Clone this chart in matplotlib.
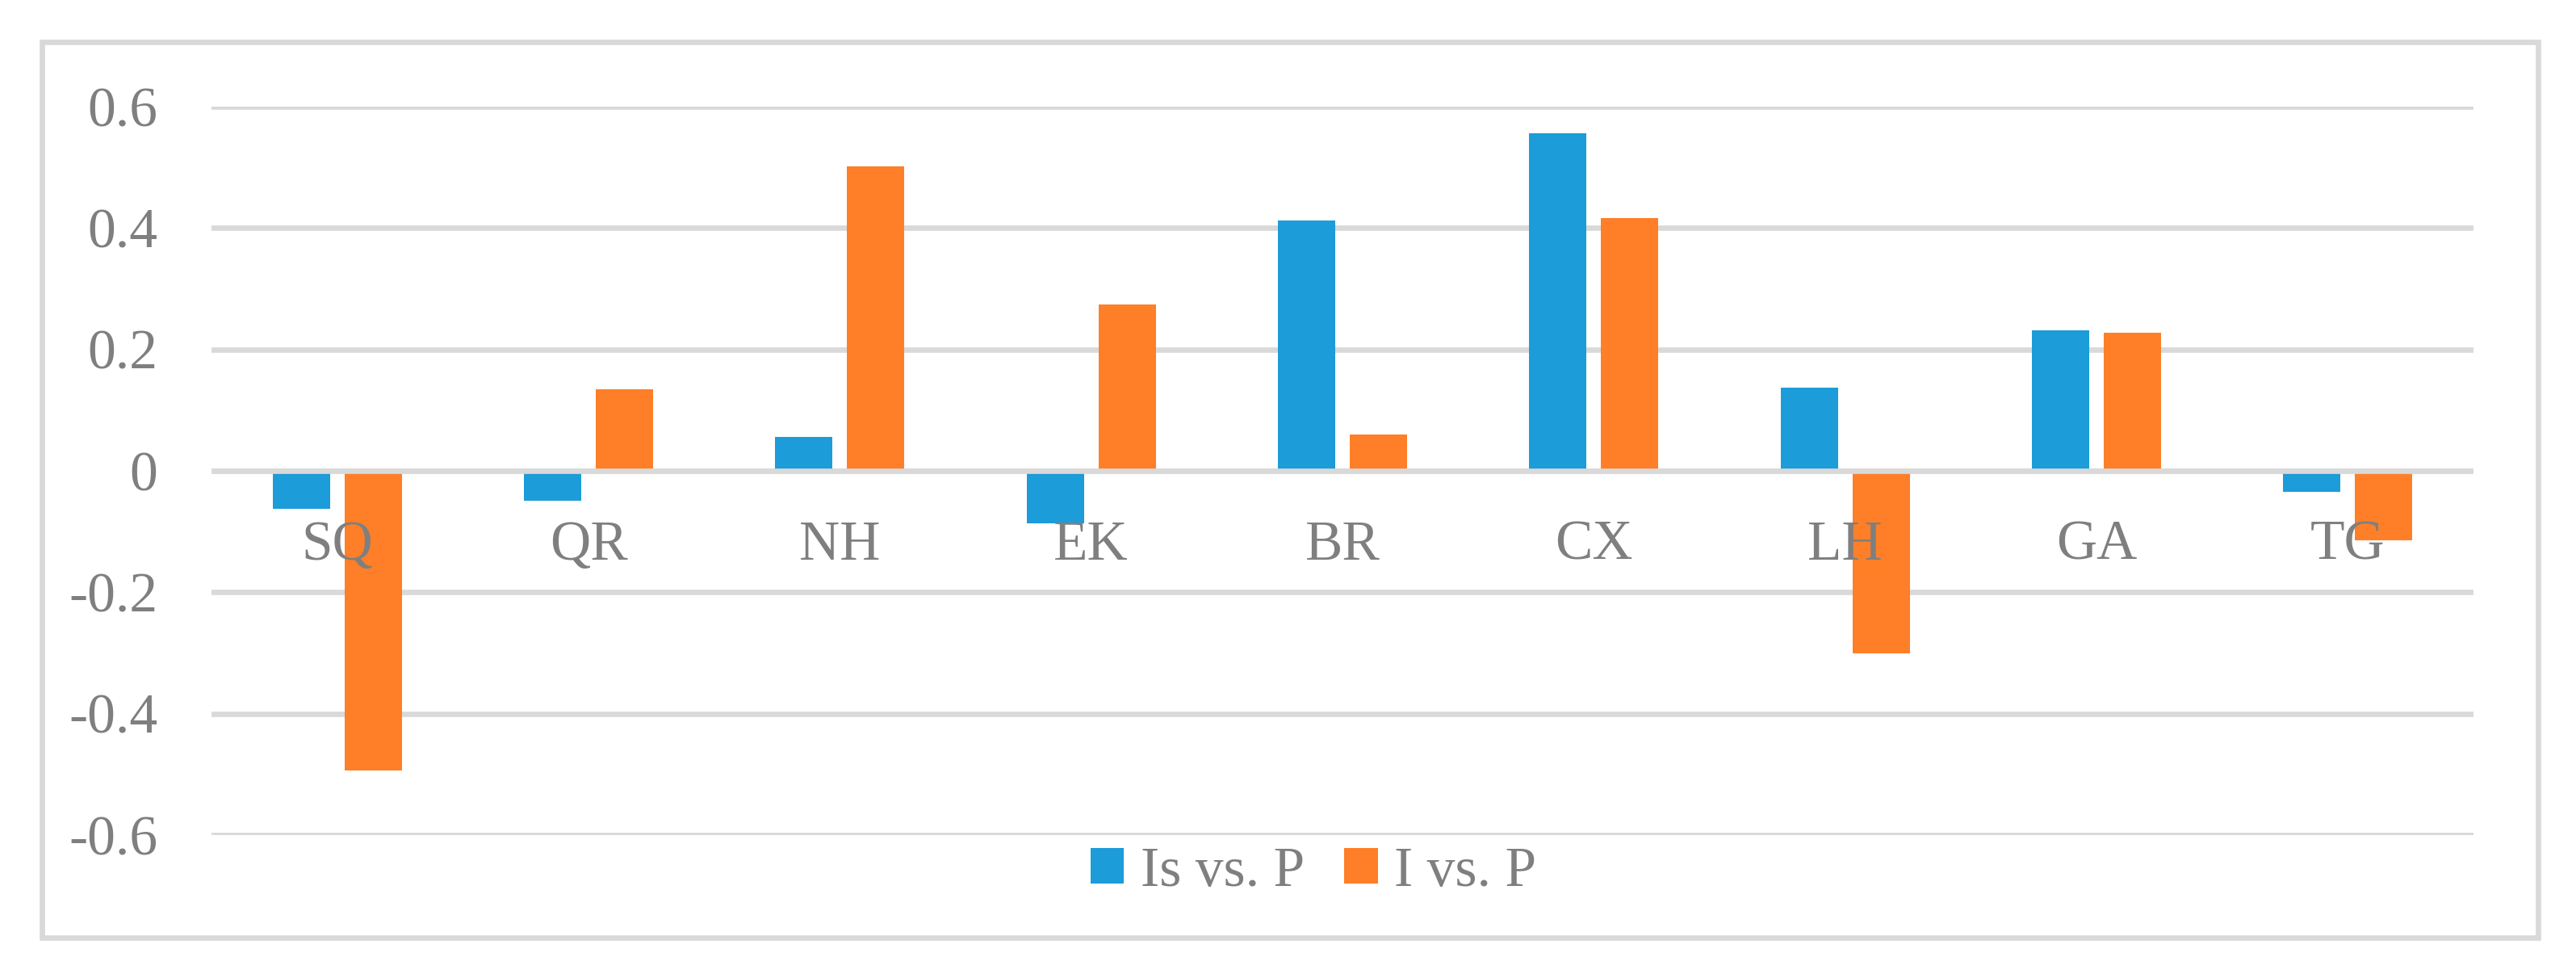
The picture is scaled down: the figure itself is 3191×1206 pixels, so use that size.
"""
Correlation bars per category (Is vs. P and I vs. P), Excel-style layout.
Saves out.png
"""
import matplotlib
matplotlib.use('Agg')
import matplotlib.pyplot as plt
from matplotlib.patches import Rectangle
import numpy as np

categories = ['SQ', 'QR', 'NH', 'EK', 'BR', 'CX', 'LH', 'GA', 'TG']
is_vs_p = [-0.062, -0.049, 0.056, -0.087, 0.412, 0.556, 0.137, 0.231, -0.035]
i_vs_p = [-0.493, 0.134, 0.501, 0.274, 0.060, 0.417, -0.300, 0.228, -0.114]
series_names = ['Is vs. P', 'I vs. P']
y_ticks = [-0.6, -0.4, -0.2, 0, 0.2, 0.4, 0.6]
y_ticklabels = ['-0.6', '-0.4', '-0.2', '0', '0.2', '0.4', '0.6']

BLUE = '#1c9cd8'
ORANGE = '#fe7f27'
GREY_TXT = '#7f7f7f'
GRID = '#d9d9d9'
W, H, DPI = 3191, 1206, 200
FS = 25

plt.rcParams.update({'font.family': ['Liberation Serif', 'DejaVu Serif'],
                     'font.size': FS})

fig = plt.figure(figsize=(W / DPI, H / DPI), dpi=DPI)
fig.patch.set_facecolor('white')

# outer chart frame
fig.add_artist(Rectangle((52 / W, 1 - 1161 / H), (3144 - 52) / W, (1161 - 52) / H,
                         transform=fig.transFigure, fill=False,
                         edgecolor=GRID, lw=2.4))

ax = fig.add_axes([262 / W, 1 - 1034 / H, (3064 - 262) / W, (1034 - 132) / H])
x = np.arange(len(categories))
bw, off = 0.228, 0.143
ax.bar(x - off, is_vs_p, bw, color=BLUE, label=series_names[0], zorder=2)
ax.bar(x + off, i_vs_p, bw, color=ORANGE, label=series_names[1], zorder=2)

ax.set_xlim(-0.5, len(categories) - 0.5)
ax.set_ylim(-0.6, 0.6)
ax.set_yticks(y_ticks)
ax.set_yticklabels(y_ticklabels)
ax.grid(axis='y', color=GRID, lw=2.4)
ax.axhline(0, color=GRID, lw=2.4, zorder=2.2)
# gridlines under the bars, category labels over them
ax.yaxis.set_zorder(0.5)
ax.xaxis.set_zorder(3)

for s in ['top', 'right', 'left']:
    ax.spines[s].set_visible(False)
ax.spines['bottom'].set_position(('data', 0))
ax.spines['bottom'].set_visible(False)
ax.set_xticks(x)
ax.set_xticklabels(categories)
ax.tick_params(axis='x', length=0, pad=22, colors=GREY_TXT, labelsize=FS)
ax.tick_params(axis='y', length=0, pad=24, colors=GREY_TXT, labelsize=FS)

fig.legend(loc='center', bbox_to_anchor=(1627 / W, 1 - 1080 / H), ncol=2,
           frameon=False, fontsize=FS, labelcolor=GREY_TXT,
           handlelength=0.6, handleheight=0.6, handletextpad=0.3,
           columnspacing=0.7)

fig.savefig('out.png', dpi=DPI)
